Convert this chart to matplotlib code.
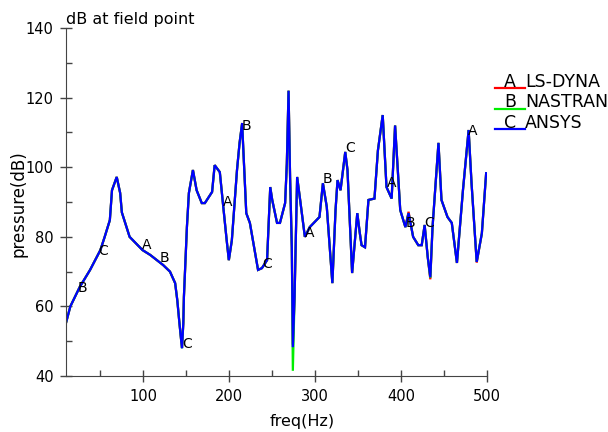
import matplotlib
matplotlib.use("Agg")
import matplotlib.pyplot as plt
import numpy as np
from matplotlib.lines import Line2D

# frequency points (Hz)
freq = [10, 15, 26, 38, 50, 55, 61, 63.5, 69, 73, 75, 84, 99, 108, 123, 131, 137,
        139.5, 142, 144, 145, 146.5, 147.2, 150.7, 153, 157.7, 162, 168, 171.6, 180,
        183, 189, 192.6, 197, 199.5, 203, 209, 212, 215, 216, 219.8, 224, 233.5, 238,
        244, 247.7, 250, 255.6, 259, 265, 267, 269, 270.8, 272.8, 274, 276, 279,
        282.5, 288, 293.7, 305, 309, 313.5, 320, 323.7, 326, 329.5, 335, 337.6, 343,
        349, 352, 354, 358, 362, 369, 373, 378.6, 383, 389, 393, 399, 405, 408.7,
        414, 420, 424, 427.4, 431, 434, 436.6, 443.5, 447, 454, 459, 465, 472,
        478.6, 482, 488, 494, 499]

# C: ANSYS (blue, drawn on top)
c_db = [55.3, 60.0, 65.6, 70.5, 76.2, 80.0, 84.8, 93.4, 97.2, 92.6, 87.0, 80.0, 76.2,
        74.8, 71.9, 70.0, 66.7, 61.8, 55.2, 50.3, 48.0, 55.2, 62.7, 82.8, 92.6, 99.2,
        93.4, 89.7, 89.7, 92.9, 100.6, 98.6, 89.7, 79.0, 73.3, 79.0, 99.2, 107.0, 112.7,
        107.0, 86.8, 84.0, 70.5, 71.0, 73.3, 94.3, 90.6, 84.0, 84.0, 89.7, 101.0, 122.0,
        97.0, 77.0, 48.3, 62.7, 97.2, 90.6, 80.0, 82.8, 85.7, 95.4, 88.6, 66.7, 87.7,
        96.3, 93.4, 104.4, 99.2, 69.6, 86.8, 81.0, 77.6, 77.0, 90.6, 91.0, 104.8, 115.0,
        94.3, 91.0, 112.0, 87.7, 82.8, 86.8, 80.0, 77.6, 77.6, 83.4, 74.2, 68.4, 82.8,
        107.0, 90.6, 85.7, 84.0, 72.5, 93.4, 110.7, 95.4, 72.8, 81.0, 98.3]

# A: LS-DYNA (red)
a_db = [55.3, 60.0, 65.6, 70.5, 76.2, 80.0, 84.8, 93.4, 97.2, 92.6, 87.0, 80.0, 76.2,
        74.8, 71.9, 70.0, 66.7, 61.8, 55.2, 50.3, 48.2, 55.2, 62.7, 82.8, 92.6, 99.2,
        93.4, 89.7, 89.7, 92.9, 100.6, 98.6, 89.7, 79.0, 73.3, 79.0, 99.2, 107.0, 112.7,
        107.0, 86.8, 84.0, 70.5, 71.0, 73.3, 94.3, 90.6, 84.0, 84.0, 89.7, 101.0, 122.0,
        97.0, 77.0, 49.0, 62.7, 97.2, 90.6, 80.0, 82.8, 85.7, 95.4, 88.6, 66.7, 87.7,
        96.3, 93.4, 104.4, 99.2, 69.6, 86.8, 81.0, 77.6, 77.0, 90.6, 91.0, 104.8, 115.0,
        94.3, 91.0, 112.0, 87.7, 82.8, 87.2, 80.0, 77.6, 77.6, 83.4, 74.2, 67.8, 82.8,
        107.0, 90.6, 85.7, 84.0, 72.5, 93.4, 110.7, 95.4, 72.6, 81.0, 98.3]

# B: NASTRAN (green)
b_db = [55.3, 60.0, 65.6, 70.5, 76.2, 80.0, 84.8, 93.4, 97.2, 92.6, 87.0, 80.0, 76.2,
        74.8, 71.9, 70.0, 66.7, 61.8, 55.2, 50.3, 48.0, 55.2, 62.7, 82.8, 92.6, 99.2,
        93.4, 89.7, 89.7, 92.9, 100.6, 98.6, 89.7, 79.0, 73.3, 79.0, 99.2, 107.0, 112.7,
        107.0, 86.8, 84.0, 70.5, 71.0, 73.3, 94.3, 90.6, 84.0, 84.0, 89.7, 101.0, 122.0,
        97.0, 77.0, 41.5, 62.7, 97.2, 90.6, 80.0, 82.8, 85.7, 95.4, 88.6, 66.7, 87.7,
        96.3, 93.4, 104.4, 99.2, 69.6, 86.8, 81.0, 77.6, 77.0, 90.6, 91.0, 104.8, 115.0,
        94.3, 91.0, 112.0, 87.7, 82.8, 86.8, 80.0, 77.6, 77.6, 83.4, 74.2, 68.2, 82.8,
        107.0, 90.6, 85.7, 84.0, 72.5, 93.4, 110.7, 95.4, 72.8, 81.0, 98.3]

names = ["LS-DYNA", "NASTRAN", "ANSYS"]
letters = ["A", "B", "C"]
colors = ["#ff0000", "#00ee00", "#0000ff"]

# frequencies where each curve carries its letter tag
a_tags = [98, 193, 288, 383, 478]
b_tags = [23, 119, 214, 309, 405]
c_tags = [47, 145, 238, 335, 427]

fig = plt.figure(figsize=(6.08, 4.32), dpi=100)
ax = fig.add_axes([0.1086, 0.1296, 0.6924, 0.8054])

series = [a_db, b_db, c_db]
tags = [a_tags, b_tags, c_tags]
for vals, col in zip(series, colors):
    ax.plot(freq, vals, color=col, lw=1.6, solid_joinstyle='miter')

for vals, tg, let in zip(series, tags, letters):
    for f in tg:
        ax.text(f, np.interp(f, freq, vals), let, fontsize=10, ha='left',
                va='baseline', color='black')

ax.set_xlim(10, 500)
ax.set_ylim(40, 140)
ax.set_xticks([100, 200, 300, 400, 500])
ax.set_xticks([50, 150, 250, 350, 450], minor=True)
ax.set_yticks([40, 60, 80, 100, 120, 140])
ax.set_yticks([50, 70, 90, 110, 130], minor=True)

for s in ['top', 'right']:
    ax.spines[s].set_visible(False)
for s in ['left', 'bottom']:
    ax.spines[s].set_color('#444444')
ax.tick_params(which='major', direction='inout', length=8, width=1, color='#444444',
               labelsize=10.5, pad=5)
ax.tick_params(which='minor', direction='in', length=4, width=1, color='#444444')

ax.set_title('dB at field point', loc='left', fontsize=11.5, pad=3)
ax.set_xlabel('freq(Hz)', fontsize=11.5, va='center')
ax.xaxis.set_label_coords(0.561, -0.132)
ax.set_ylabel('pressure(dB)', fontsize=12, va='center')
ax.yaxis.set_label_coords(-0.113, 0.495)

# legend drawn at the right, outside the axes
for i, (let, name, col) in enumerate(zip(letters, names, colors)):
    y = 0.7963 - i * 0.0475
    fig.add_artist(Line2D([0.814, 0.864], [y, y], color=col, lw=1.6,
                          transform=fig.transFigure))
    fig.text(0.839, y + 0.003, let, ha='center', va='baseline', fontsize=12.5)
    fig.text(0.864, y + 0.003, name, ha='left', va='baseline', fontsize=12.5)

fig.savefig('out.png', dpi=100)
